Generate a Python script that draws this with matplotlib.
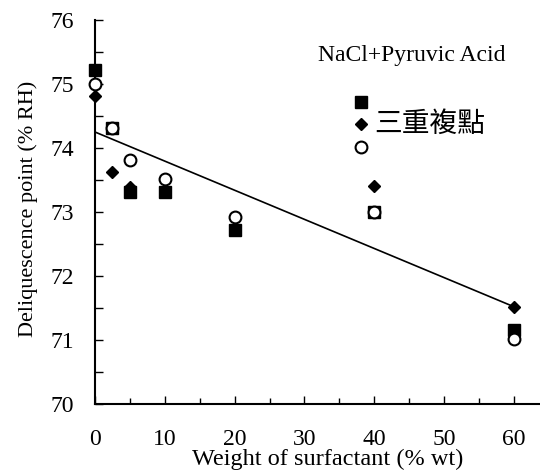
import matplotlib.pyplot as plt
from matplotlib.ticker import MultipleLocator

plt.rcParams['font.family'] = ['Liberation Serif', 'DejaVu Serif']

# measured data (three repeated runs)
x_sq = [0, 2.5, 5, 10, 20, 40, 60]
y_sq = [75.22, 74.32, 73.32, 73.32, 72.72, 73.0, 71.15]
x_di = [0, 2.5, 5, 40, 60]
y_di = [74.82, 73.63, 73.39, 73.41, 71.52]
x_ci = [0, 2.5, 5, 10, 20, 40, 60]
y_ci = [75.0, 74.31, 73.82, 73.52, 72.92, 73.0, 71.02]

# trend line
x_fit = [0, 60]
y_fit = [74.25, 71.52]

# legend markers
leg_x = [38.1, 38.1, 38.1]
leg_y = [74.72, 74.37, 74.02]

fig = plt.figure(figsize=(5.4, 4.7), dpi=100)
ax = fig.add_axes([0.176, 0.1404, 0.830, 0.817])

ax.plot(x_fit, y_fit, color='black', lw=1.2, zorder=2)
ax.plot(x_sq, y_sq, ls='none', marker='s', ms=9, mfc='black', mec='black', zorder=3, clip_on=False)
ax.plot(x_di, y_di, ls='none', marker='D', ms=6.5, mfc='black', mec='black', zorder=4, clip_on=False)
ax.plot(x_ci, y_ci, ls='none', marker='o', ms=8.5, mfc='white', mec='black', mew=1.5, zorder=5,
        clip_on=False)

ax.plot(leg_x[0], leg_y[0], ls='none', marker='s', ms=9, mfc='black', mec='black')
ax.plot(leg_x[1], leg_y[1], ls='none', marker='D', ms=6.5, mfc='black', mec='black')
ax.plot(leg_x[2], leg_y[2], ls='none', marker='o', ms=8.5, mfc='white', mec='black', mew=1.5)
ax.text(40.0, 74.37, '三重複點', fontsize=20, va='center', ha='left',
        family=['Noto Sans CJK TC', 'DejaVu Sans'])
ax.text(32.0, 75.45, 'NaCl+Pyruvic Acid', fontsize=17, va='center', ha='left')

ax.set_xlim(0, 64.2)
ax.set_ylim(70, 76)
ax.xaxis.set_major_locator(MultipleLocator(10))
ax.xaxis.set_minor_locator(MultipleLocator(5))
ax.yaxis.set_major_locator(MultipleLocator(1))
ax.yaxis.set_minor_locator(MultipleLocator(0.5))

for s in ['top', 'right']:
    ax.spines[s].set_visible(False)
for s in ['left', 'bottom']:
    ax.spines[s].set_linewidth(1.5)

ax.tick_params(axis='x', which='major', direction='in', length=6, width=1, labelsize=17, pad=18)
ax.tick_params(axis='x', which='minor', direction='in', length=4, width=1)
ax.tick_params(axis='y', which='both', direction='in', length=6, width=1, labelsize=17, pad=15)

ax.set_xlabel('Weight of surfactant (% wt)', fontsize=17.5)
ax.set_ylabel('Deliquescence point (% RH)', fontsize=16)
ax.xaxis.set_label_coords(0.52, -0.117)
ax.yaxis.set_label_coords(-0.128, 0.509)

fig.savefig('out.png', dpi=100)
